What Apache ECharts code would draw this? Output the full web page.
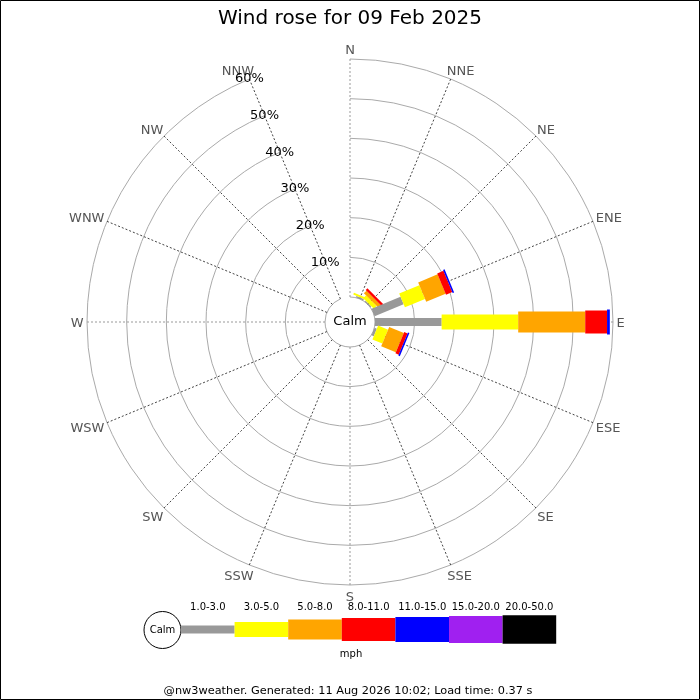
<!DOCTYPE html>
<html>
<head>
<meta charset="utf-8">
<script src="https://cdn.jsdelivr.net/npm/echarts@6/dist/echarts.min.js"></script>
<style>html,body{margin:0;padding:0;background:#fff}#c{width:700px;height:700px}</style>
</head>
<body>
<div id="c"></div>
<script>
// ---- data ----
const directions = ['N','NNE','NE','ENE','E','ESE','SE','SSE','S','SSW','SW','WSW','W','WNW','NW','NNW'];
const speedBands = ['1.0-3.0','3.0-5.0','5.0-8.0','8.0-11.0','11.0-15.0','15.0-20.0','20.0-50.0'];
// percent of time, per direction, for each speed band (mph)
const pct_1_3   = [0, 0.4, 0.3, 7.9, 16.8, 0.6, 0, 0, 0, 0, 0, 0, 0, 0, 0, 0];
const pct_3_5   = [0, 0.5, 1.0, 5.5, 19.3, 2.7, 0, 0, 0, 0, 0, 0, 0, 0, 0, 0];
const pct_5_8   = [0, 0,   0.9, 5.3, 16.9, 4.0, 0, 0, 0, 0, 0, 0, 0, 0, 0, 0];
const pct_8_11  = [0, 0,   0.6, 1.7, 5.5,  0.9, 0, 0, 0, 0, 0, 0, 0, 0, 0, 0];
const pct_11_15 = [0, 0,   0,   0.4, 0.7,  0.4, 0, 0, 0, 0, 0, 0, 0, 0, 0, 0];
const pct_15_20 = [0, 0,   0,   0,   0,    0,   0, 0, 0, 0, 0, 0, 0, 0, 0, 0];
const pct_20_50 = [0, 0,   0,   0,   0,    0,   0, 0, 0, 0, 0, 0, 0, 0, 0, 0];
const radialTicks = [10, 20, 30, 40, 50, 60];
const unitLabel = 'mph';
const titleText = 'Wind rose for 09 Feb 2025';
const footerText = '@nw3weather. Generated: 11 Aug 2026 10:02; Load time: 0.37 s';

// ---- styles ----
const bandColors = ['#999999', '#ffff00', '#ffa500', '#ff0000', '#0000ff', '#a020f0', '#000000'];
const bandWidths = [8, 15, 21, 23, 25, 27, 29];
const FONT = 'DejaVu Sans';
const RMAX = radialTicks[radialTicks.length - 1];

const bands = [pct_1_3, pct_3_5, pct_5_8, pct_8_11, pct_11_15, pct_15_20, pct_20_50];
const segData = [];
directions.forEach((d, di) => {
  let start = 0;
  bands.forEach((arr, bi) => {
    const v = arr[di];
    if (v > 0) { segData.push([di, start, start + v, bi]); start += v; }
  });
});

function unitDir(api, d) {
  const far = api.coord([RMAX, d]), near = api.coord([0, d]);
  let ux = far[0] - near[0], uy = far[1] - near[1];
  const L = Math.hypot(ux, uy);
  return { ux: ux / L, uy: uy / L, far: far };
}

function renderSeg(params, api) {
  const d = api.value(0), s = api.value(1), e = api.value(2), b = api.value(3);
  const a = api.coord([s, d]), z = api.coord([e, d]);
  const u = unitDir(api, d);
  const nx = -u.uy, ny = u.ux, h = bandWidths[b] / 2;
  return {
    type: 'polygon',
    shape: { points: [
      [a[0] + nx * h, a[1] + ny * h], [z[0] + nx * h, z[1] + ny * h],
      [z[0] - nx * h, z[1] - ny * h], [a[0] - nx * h, a[1] - ny * h]
    ] },
    style: { fill: bandColors[b] }
  };
}

const nnw = directions.indexOf('NNW');
function renderTick(params, api) {
  const p = api.coord([api.value(0), nnw]);
  return { type: 'text', x: p[0], y: p[1], z2: 10,
    style: { text: api.value(0) + '%', align: 'center', verticalAlign: 'middle',
      fill: '#000', font: '13px "' + FONT + '"' } };
}

// direction labels placed just outside the outer ring
const measureCtx = document.createElement('canvas').getContext('2d');
measureCtx.font = '13px "' + FONT + '"';
function renderDir(params, api) {
  const d = params.dataIndex;
  const txt = directions[d];
  const u = unitDir(api, d);
  const w = measureCtx.measureText(txt).width, h = 13, m = 3.5;
  const px = u.far[0] + u.ux * m, py = u.far[1] + u.uy * m;
  const sx = Math.sign(u.ux) * Math.sqrt(Math.abs(u.ux));
  return { type: 'text', x: px + sx * w / 2, y: py + u.uy * h / 2 + 1.5 + Math.max(0, u.uy),
    style: { text: txt, align: 'center', verticalAlign: 'middle', fill: '#555', font: '13px "' + FONT + '"' } };
}

// legend graphics
const legendX0 = 181, legendW = 53.6, legendCY = 629.5;
const legendH = [8, 15, 20, 23, 25, 27, 28.6];
const graphics = [
  { type: 'rect', shape: { x: 0.5, y: 0.5, width: 699, height: 699 }, style: { fill: null, stroke: '#000', lineWidth: 1 }, silent: true },
  { type: 'text', x: 350, y: 322, style: { text: 'Calm', align: 'center', verticalAlign: 'middle', fill: '#000', font: '13px "' + FONT + '"' } },
  { type: 'circle', shape: { cx: 162.5, cy: 630, r: 18.5 }, style: { fill: '#fff', stroke: '#000', lineWidth: 1 } },
  { type: 'text', x: 162.5, y: 630, style: { text: 'Calm', align: 'center', verticalAlign: 'middle', fill: '#000', font: '10px "' + FONT + '"' } },
  { type: 'text', x: 351, y: 654, style: { text: unitLabel, align: 'center', verticalAlign: 'middle', fill: '#000', font: '10px "' + FONT + '"' } },
  { type: 'text', x: 348, y: 691, style: { text: footerText, align: 'center', verticalAlign: 'middle', fill: '#000', font: '11.3px "' + FONT + '"' } }
];
speedBands.forEach((lab, i) => {
  const x = legendX0 + i * legendW, h = legendH[i];
  graphics.push({ type: 'rect', shape: { x: x, y: legendCY - h / 2, width: legendW, height: h }, style: { fill: bandColors[i] } });
  graphics.push({ type: 'text', x: x + legendW / 2, y: 607, style: { text: lab, align: 'center', verticalAlign: 'middle', fill: '#000', font: '10px "' + FONT + '"' } });
});

const chart = echarts.init(document.getElementById('c'));
chart.setOption({
  backgroundColor: '#fff',
  animation: false,
  title: { text: titleText, left: 'center', top: 4,
    textStyle: { fontSize: 20, fontWeight: 'normal', color: '#000', fontFamily: FONT } },
  polar: { center: [350, 322], radius: [25, 263] },
  angleAxis: {
    type: 'category', data: directions, startAngle: 90, clockwise: true, boundaryGap: false,
    axisLine: { show: false },
    axisTick: { show: false, interval: 0 },
    axisLabel: { show: false, interval: 0 },
    splitLine: { show: true, interval: 0, lineStyle: { color: ['#999', '#444', '#444', '#444'], width: 1, type: [2, 2] } }
  },
  radiusAxis: {
    type: 'value', min: 0, max: RMAX, interval: 10,
    axisLine: { show: false }, axisTick: { show: false }, axisLabel: { show: false },
    splitLine: { show: true, lineStyle: { color: '#aaa', width: 1, type: 'solid' } }
  },
  series: [
    { type: 'custom', coordinateSystem: 'polar', data: segData, renderItem: renderSeg, clip: false,
      encode: { angle: 0, radius: [1, 2] }, silent: true, z: 3 },
    { type: 'custom', coordinateSystem: 'polar', data: radialTicks.map(t => [t, nnw]), renderItem: renderTick, clip: false,
      encode: { radius: 0, angle: 1 }, silent: true, z: 4 },
    { type: 'custom', coordinateSystem: 'polar', data: directions.map((d, i) => [RMAX, i]), renderItem: renderDir, clip: false,
      encode: { radius: 0, angle: 1 }, silent: true, z: 4 }
  ],
  graphic: graphics
});
</script>
</body>
</html>
